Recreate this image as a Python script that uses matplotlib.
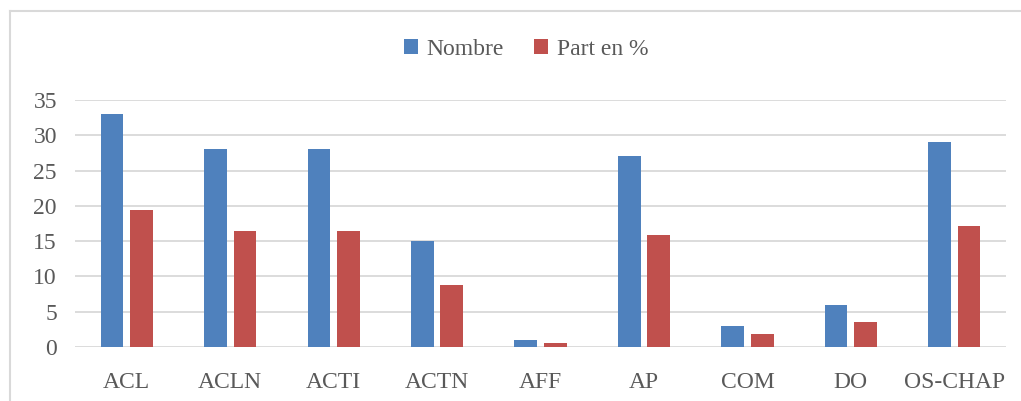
import matplotlib.pyplot as plt
from matplotlib.lines import Line2D
import numpy as np

categories = ["ACL", "ACLN", "ACTI", "ACTN", "AFF", "AP", "COM", "DO", "OS-CHAP"]
nombre = [33, 28, 28, 15, 1, 27, 3, 6, 29]
part_pct = [19.4, 16.5, 16.5, 8.8, 0.6, 15.9, 1.8, 3.5, 17.1]
series_labels = ["Nombre", "Part en %"]
yticks = [0, 5, 10, 15, 20, 25, 30, 35]

blue = "#4F81BD"
red = "#C0504D"
text_col = "#595959"
grid_col = "#D9D9D9"

plt.rcParams["font.family"] = ["Liberation Serif"]

fig = plt.figure(figsize=(10.21, 4.01), dpi=100)
ax = fig.add_axes([0.0735, 0.1347, 0.9118, 0.6159])

x = np.arange(len(categories))
w = 0.22
gap = 0.065
ax.bar(x - (w + gap) / 2, nombre, w, color=blue, label=series_labels[0], zorder=3)
ax.bar(x + (w + gap) / 2, part_pct, w, color=red, label=series_labels[1], zorder=3)

ax.set_xlim(-0.5, len(categories) - 0.5)
ax.set_ylim(0, 35)
ax.set_yticks(yticks)
ax.set_xticks(x)
ax.set_xticklabels(categories)
ax.grid(axis="y", color=grid_col, linewidth=1.3, zorder=0)
for s in ax.spines.values():
    s.set_visible(False)
ax.tick_params(length=0, labelsize=17, colors=text_col)
ax.tick_params(axis="y", pad=13)
ax.tick_params(axis="x", pad=18)

fig.legend(loc="center", bbox_to_anchor=(0.515, 0.876), ncol=2, frameon=False,
           fontsize=17, labelcolor=text_col, handlelength=0.6, handleheight=0.6,
           handletextpad=0.35, columnspacing=1.3)

# chart border (only top and left edges fall inside the image)
x0, y0 = 9.5 / 1021, 1 - 10.5 / 401
fig.add_artist(Line2D([x0, x0], [0, y0], transform=fig.transFigure,
                      color=grid_col, linewidth=1.5))
fig.add_artist(Line2D([x0, 1], [y0, y0], transform=fig.transFigure,
                      color=grid_col, linewidth=1.5))

fig.savefig("out.png", dpi=100)
